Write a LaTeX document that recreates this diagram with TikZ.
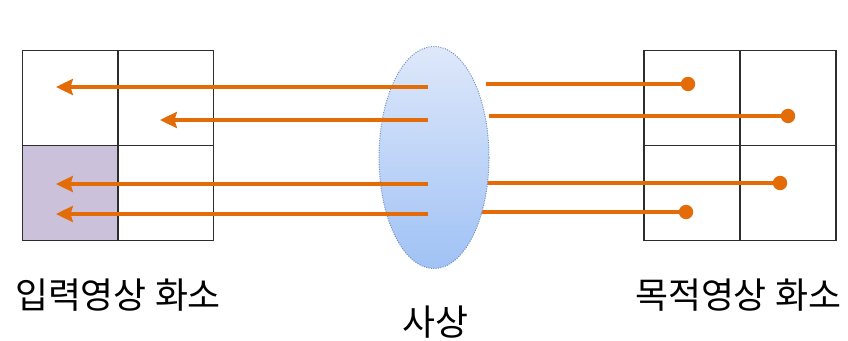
\documentclass[tikz,border=0pt]{standalone}
\usepackage{fontspec}
\setmainfont{Noto Sans CJK KR}
\usetikzlibrary{positioning,shapes.geometric,arrows.meta}
\definecolor{ray}{RGB}{227,108,9}
\definecolor{gridline}{RGB}{45,45,45}
\definecolor{lavender}{RGB}{204,193,218}
\definecolor{lenstop}{RGB}{222,232,250}
\definecolor{lensbot}{RGB}{160,194,245}
\definecolor{lensedge}{RGB}{110,140,190}

\begin{document}
\begin{tikzpicture}[
  x=0.025cm, y=-0.025cm,
  every node/.style={font=\fontsize{25.5pt}{30pt}\selectfont},
  caption/.style={inner sep=0pt},
  pixel/.style={rectangle, draw=gridline, line width=1pt, minimum width=2.4cm, minimum height=2.38cm, inner sep=0pt},
  lens/.style={ellipse, draw=lensedge, densely dotted, line width=0.7pt, top color=lenstop, bottom color=lensbot, minimum width=2.75cm, minimum height=5.55cm, inner sep=0pt},
  fwd/.style={-{Stealth[length=0.42cm, width=0.4cm, inset=0.06cm]}, line width=0.1cm, color=ray},
  bwd/.style={line width=0.1cm, color=ray},
  dot/.style={circle, fill=ray, minimum size=0.36cm, inner sep=0pt}
]
  \useasboundingbox (0,0) rectangle (848,341);

  % input image pixels
  \node[pixel] (in11) at (70.5,98) {};
  \node[pixel] (in12) at (165.5,98) {};
  \node[pixel, fill=lavender] (in21) at (70.5,193) {};
  \node[pixel] (in22) at (165.5,193) {};

  % target image pixels
  \node[pixel] (out11) at (692,98) {};
  \node[pixel] (out12) at (788,98) {};
  \node[pixel] (out21) at (692,193) {};
  \node[pixel] (out22) at (788,193) {};

  % right side lines start at the lens edge
  \foreach \i/\y/\xs/\xe in {1/84/486/688, 2/116/489/788, 3/183/487/780, 4/212/481/686} {
    \coordinate (s\i) at (\xs,\y);
    \node[dot] (d\i) at (\xe,\y) {};
    \draw[bwd] (s\i) -- (d\i.center);
  }

  \node[lens] (map) at (434,157.5) {};

  % mapped back to input pixels
  \foreach \i/\y/\xt in {1/87/56, 2/120/160, 3/184/56, 4/214/56} {
    \coordinate (m\i) at (428,\y);
    \coordinate (t\i) at (\xt,\y);
    \draw[fwd] (m\i) -- (t\i);
  }

  \node[caption] (lblin) at (118,295) {입력영상 화소};
  \node[caption] (lblout) at (738,295) {목적영상 화소};
  \node[caption] (lblmap) at (435,322) {사상};
\end{tikzpicture}
\end{document}
